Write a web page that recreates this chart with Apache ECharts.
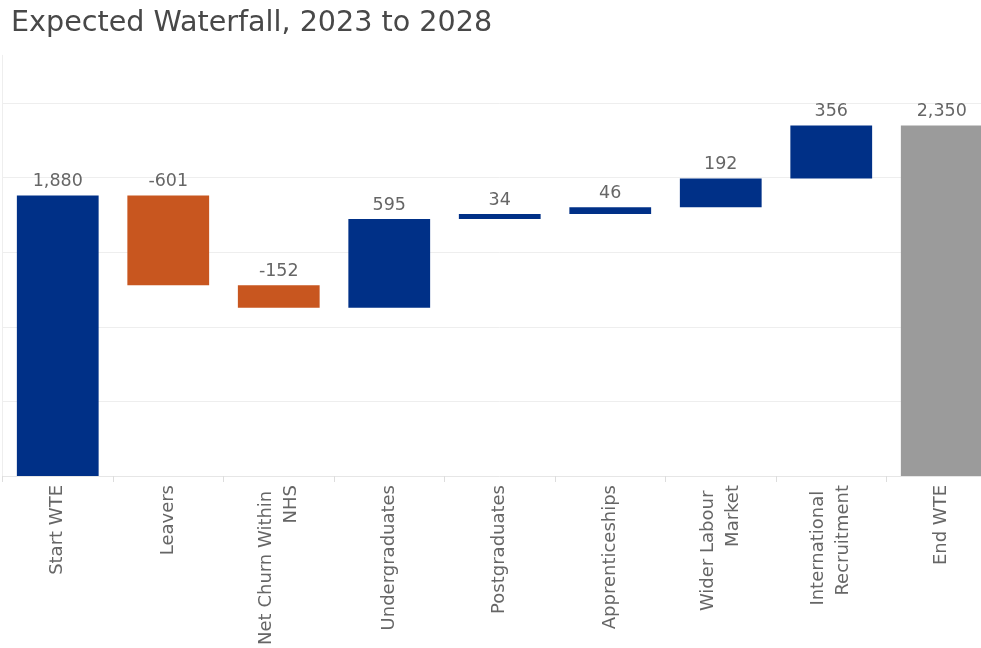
<!DOCTYPE html>
<html>
<head>
<meta charset="utf-8">
<style>
  html, body { margin: 0; padding: 0; background: #ffffff; overflow: hidden; width: 981px; height: 648px; }
  /* the drawing surface is a little wider than the page; the last column is cut by the page edge */
  #chart { width: 1000px; height: 648px; }
</style>
<script src="https://cdn.jsdelivr.net/npm/echarts@6/dist/echarts.min.js"></script>
</head>
<body>
<div id="chart"></div>
<script>
// Waterfall categories (second-line breaks as shown on the axis)
const categories = [
  'Start WTE',
  'Leavers',
  'Net Churn Within \nNHS',
  'Undergraduates',
  'Postgraduates',
  'Apprenticeships',
  'Wider Labour \nMarket',
  'International \nRecruitment',
  'End WTE'
];

// Opening and closing whole-time-equivalent totals
const startTotal = 1880;
const endTotal = 2350;

// Movements between the two totals, one per middle category
const changes = [-601, -152, 595, 34, 46, 192, 356];

const COLOR_UP = '#003087';
const COLOR_DOWN = '#C8561F';
const COLOR_END = '#9B9B9B';

// Build the invisible base and the visible segment for every column
const baseData = [];
const barData = [];

baseData.push(0);
barData.push({ value: startTotal, label: startTotal, itemStyle: { color: COLOR_UP } });

let running = startTotal;
changes.forEach(function (c) {
  const next = running + c;
  baseData.push(Math.min(running, next));
  barData.push({
    value: Math.abs(c),
    label: c,
    itemStyle: { color: c < 0 ? COLOR_DOWN : COLOR_UP }
  });
  running = next;
});

baseData.push(0);
barData.push({ value: endTotal, label: endTotal, itemStyle: { color: COLOR_END } });

const fmt = function (v) {
  const s = Math.abs(v).toString().replace(/\B(?=(\d{3})+(?!\d))/g, ',');
  return (v < 0 ? '-' : '') + s;
};

const chart = echarts.init(document.getElementById('chart'), null, { renderer: 'canvas' });

chart.setOption({
  animation: false,
  backgroundColor: '#ffffff',
  title: {
    text: 'Expected Waterfall, 2023 to 2028',
    left: 6,
    top: 4,
    textStyle: {
      fontFamily: 'DejaVu Sans',
      fontSize: 28.6,
      fontWeight: 'normal',
      color: '#484848'
    }
  },
  grid: {
    left: 2.5,
    right: 3,
    top: 55.3,
    bottom: 172,
    containLabel: false
  },
  xAxis: {
    type: 'category',
    data: categories,
    axisLine: { show: true, lineStyle: { color: '#e6e6e6', width: 1 } },
    axisTick: { show: true, length: 6, lineStyle: { color: '#dddddd' } },
    axisLabel: {
      rotate: 90,
      margin: 9,
      interval: 0,
      fontFamily: 'DejaVu Sans',
      fontSize: 18,
      lineHeight: 25,
      color: '#666666'
    }
  },
  yAxis: {
    type: 'value',
    min: 0,
    max: 2820,
    interval: 500,
    axisLabel: { show: false },
    axisTick: { show: false },
    axisLine: { show: true, lineStyle: { color: '#eeeeee' } },
    splitLine: {
      show: true,
      showMaxLine: false,
      showMinLine: false,
      lineStyle: { color: '#eeeeee', width: 1 }
    }
  },
  series: [
    {
      name: 'base',
      type: 'bar',
      stack: 'wf',
      data: baseData,
      barWidth: '74%',
      itemStyle: { color: 'transparent' },
      emphasis: { disabled: true },
      silent: true
    },
    {
      name: 'movement',
      type: 'bar',
      stack: 'wf',
      data: barData,
      barWidth: '74%',
      label: {
        show: true,
        position: 'top',
        distance: 5,
        fontFamily: 'DejaVu Sans',
        fontSize: 17.5,
        color: '#666666',
        formatter: function (p) { return fmt(p.data.label); }
      }
    }
  ]
});
</script>
</body>
</html>
